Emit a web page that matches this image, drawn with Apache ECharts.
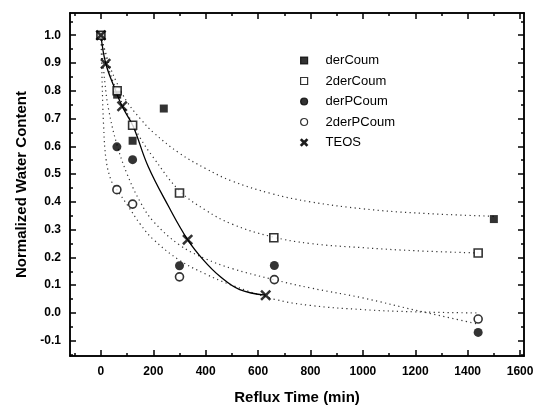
<!DOCTYPE html>
<html><head><meta charset="utf-8">
<script src="https://cdn.jsdelivr.net/npm/echarts@6/dist/echarts.min.js"></script>
<style>html,body{margin:0;padding:0;background:#fff}#c{width:537px;height:412px}</style>
</head><body><div id="c"></div>
<script>
// ---- data ----
const derCoum    = [[0,1.0],[62,0.786],[121,0.62],[240,0.736],[1500,0.338]];
const twoDerCoum = [[0,1.0],[62,0.80],[121,0.676],[300,0.432],[660,0.271],[1440,0.216]];
const derPCoum   = [[61,0.598],[121,0.552],[300,0.170],[662,0.171],[1440,-0.070]];
const twoDerPCoum= [[61,0.444],[121,0.392],[300,0.130],[662,0.120],[1440,-0.022]];
const teos       = [[0,1.0],[18,0.897],[81,0.744],[331,0.264],[629,0.064]];
// fitted curves
const fitDerCoum = [[0,1],[30,0.9],[60,0.83],[100,0.76],[150,0.70],[200,0.65],[300,0.575],[400,0.52],[500,0.475],[650,0.43],[800,0.40],[1000,0.375],[1200,0.36],[1500,0.348]];
const fitTwoDerCoum = [[0,1],[30,0.88],[60,0.80],[100,0.72],[150,0.63],[200,0.56],[300,0.44],[400,0.37],[500,0.32],[650,0.275],[800,0.25],[1000,0.235],[1200,0.224],[1440,0.216]];
const fitDerPCoum = [[0,1],[15,0.83],[30,0.73],[60,0.61],[100,0.5],[150,0.4],[200,0.33],[300,0.245],[400,0.195],[500,0.16],[660,0.12],[800,0.09],[1000,0.054],[1200,0.01],[1440,-0.04]];
const fitTwoDerPCoum = [[0,1],[5,0.82],[10,0.68],[20,0.55],[40,0.475],[60,0.445],[100,0.39],[150,0.32],[200,0.265],[300,0.19],[400,0.14],[500,0.1],[660,0.05],[800,0.027],[1000,0.012],[1200,0.004],[1440,0.0]];
const fitTeos = [[0,1],[18,0.9],[50,0.815],[81,0.744],[123,0.672],[180,0.528],[258,0.384],[331,0.264],[390,0.192],[454,0.132],[530,0.084],[629,0.064]];
const xMajor = [0,200,400,600,800,1000,1200,1400,1600];
const xMinor = [-100,100,300,500,700,900,1100,1300,1500];
const yMajor = [-0.1,0,0.1,0.2,0.3,0.4,0.5,0.6,0.7,0.8,0.9,1.0];
const yMinor = [-0.15,-0.05,0.05,0.15,0.25,0.35,0.45,0.55,0.65,0.75,0.85,0.95,1.05];
const legendNames = ['derCoum','2derCoum','derPCoum','2derPCoum','TEOS'];

const X_PATH = 'path://M0,1.6L1.6,0L5,3.4L8.4,0L10,1.6L6.6,5L10,8.4L8.4,10L5,6.6L1.6,10L0,8.4L3.4,5Z';
const FONT = '"Liberation Sans", Arial, sans-serif';
const XMIN=-118, XMAX=1615, YMIN=-0.155, YMAX=1.08;

function xAx(pos, ticks, len, labels){
  return {type:'value', position:pos, min:XMIN, max:XMAX, splitLine:{show:false},
    axisLine:{show:true, onZero:false, lineStyle:{color:'#000', width:1.5}},
    axisTick:{show:true, inside:true, length:len, customValues:ticks, lineStyle:{color:'#000', width:1.5}},
    axisLabel: labels ? {show:true, customValues:ticks, margin:10, color:'#000', fontFamily:FONT, fontSize:12, fontWeight:'bold', formatter:v=>String(Math.round(v))} : {show:false},
    name: labels ? 'Reflux Time (min)' : '', nameLocation:'middle', nameGap:34,
    nameTextStyle:{color:'#000', fontFamily:FONT, fontSize:15, fontWeight:'bold'}};
}
function yAx(pos, ticks, len, labels){
  return {type:'value', position:pos, min:YMIN, max:YMAX, splitLine:{show:false},
    axisLine:{show:true, onZero:false, lineStyle:{color:'#000', width:1.5}},
    axisTick:{show:true, inside:true, length:len, customValues:ticks, lineStyle:{color:'#000', width:1.5}},
    axisLabel: labels ? {show:true, customValues:ticks, margin:9, color:'#000', fontFamily:FONT, fontSize:12, fontWeight:'bold', formatter:v=>v.toFixed(1)} : {show:false},
    name: labels ? 'Normalized Water Content' : '', nameLocation:'middle', nameGap:40,
    nameTextStyle:{color:'#000', fontFamily:FONT, fontSize:15, fontWeight:'bold'}};
}

function fit(data){
  return {type:'line', data:data, smooth:0.4, symbol:'none', silent:true, z:1,
    lineStyle:{color:'#333', width:1.2, type:[1.2,3.4]}};
}
function pts(name, data, symbol, filled, size){
  return {type:'scatter', name:name, data:data, symbol:symbol, symbolSize:size, z:5,
    itemStyle: filled ? {color:'#000', borderColor:'#000', borderWidth:0} : {color:'#fff', borderColor:'#000', borderWidth:1.6}};
}

const chart = echarts.init(document.getElementById('c'), null, {renderer:'canvas'});
chart.setOption({
  animation:false,
  backgroundColor:'#fff',
  grid:{left:70, right:13, top:13, bottom:56},
  xAxis:[xAx('bottom', xMajor, 6, true), xAx('bottom', xMinor, 3, false), xAx('top', xMajor, 6, false), xAx('top', xMinor, 3, false)],
  yAxis:[yAx('left', yMajor, 6, true), yAx('left', yMinor, 3, false), yAx('right', yMajor, 6, false), yAx('right', yMinor, 3, false)],
  legend:{orient:'vertical', left:295, top:49, itemWidth:7, itemHeight:7, itemGap:7.5,
    textStyle:{color:'#000', fontFamily:FONT, fontSize:13, padding:[0,0,0,13]},
    data: legendNames.map(n => ({name:n, itemStyle:{borderWidth:1.2}}))},
  series:[
    fit(fitDerCoum), fit(fitTwoDerCoum), fit(fitDerPCoum), fit(fitTwoDerPCoum),
    {type:'line', data:fitTeos, smooth:0.4, symbol:'none', silent:true, z:2, lineStyle:{color:'#000', width:1.3}},
    pts('derCoum', derCoum, 'rect', true, 8),
    pts('2derCoum', twoDerCoum, 'rect', false, 8),
    pts('derPCoum', derPCoum, 'circle', true, 9),
    pts('2derPCoum', twoDerPCoum, 'circle', false, 8),
    pts('TEOS', teos, X_PATH, true, 11)
  ]
});
</script></body></html>
